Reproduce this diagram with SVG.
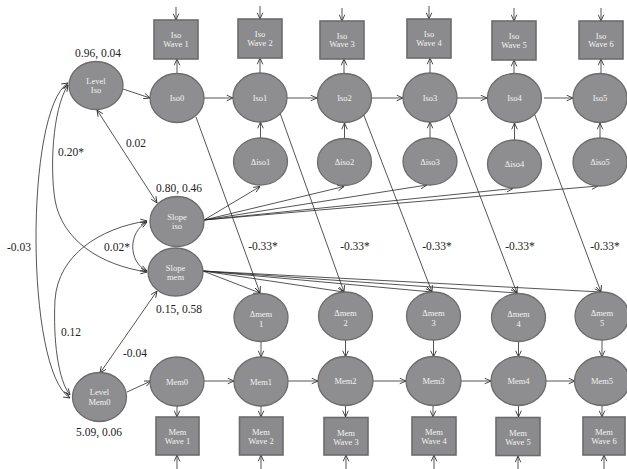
<svg xmlns="http://www.w3.org/2000/svg" width="627" height="469" viewBox="0 0 627 469">
<style>
.n ellipse{fill:#8e8e90;stroke:#6c6c6c;stroke-width:1.3}
.n rect{fill:#8b8b8d;stroke:#6c6c6c;stroke-width:1.6}
.n text{font-family:"Liberation Serif",serif;font-size:8.5px;fill:#f2f2f2;text-anchor:middle}
.c path,.c line{fill:none;stroke:#2a2a2a;stroke-width:0.8}
.c line,.c path{marker-end:url(#a)}
.c .d{marker-start:url(#a)}
.l text{font-family:"Liberation Serif",serif;font-size:11.5px;fill:#222;text-anchor:middle}
</style>
<defs>
<marker id="a" viewBox="0 0 10 10" refX="10" refY="5" markerWidth="7" markerHeight="7" markerUnits="userSpaceOnUse" orient="auto-start-reverse">
<path d="M1,1 L10,5 L1,9" fill="none" stroke="#2a2a2a" stroke-width="1.2"/>
</marker>
</defs>
<rect width="627" height="469" fill="#fff"/>
<g class="c">
<!-- top input arrows -->
<line x1="176" y1="7" x2="176" y2="20"/>
<line x1="260" y1="6" x2="260" y2="19"/>
<line x1="342" y1="8" x2="342" y2="21"/>
<line x1="429" y1="6" x2="429" y2="19"/>
<line x1="514" y1="8" x2="514" y2="21"/>
<line x1="601" y1="8" x2="601" y2="21"/>
<!-- iso to boxes -->
<line x1="177" y1="74" x2="177" y2="59"/>
<line x1="260" y1="73" x2="260" y2="58"/>
<line x1="344" y1="74" x2="344" y2="59"/>
<line x1="430" y1="73" x2="430" y2="58"/>
<line x1="514" y1="74" x2="514" y2="60"/>
<line x1="601" y1="74" x2="601" y2="59"/>
<!-- iso chain -->
<line x1="123" y1="89" x2="150" y2="98"/>
<line x1="204" y1="98" x2="233" y2="98"/>
<line x1="287" y1="98" x2="317" y2="98"/>
<line x1="372" y1="98" x2="403" y2="98"/>
<line x1="457" y1="98" x2="487" y2="98"/>
<line x1="544" y1="98" x2="573" y2="98"/>
<!-- delta iso to iso -->
<line x1="260.5" y1="138" x2="260.5" y2="122"/>
<line x1="344.5" y1="139" x2="344.5" y2="123"/>
<line x1="430" y1="138" x2="430" y2="122"/>
<line x1="514.5" y1="140" x2="514.5" y2="123"/>
<line x1="600" y1="138" x2="600" y2="123"/>
<!-- slope iso fan -->
<line x1="204" y1="220" x2="260" y2="186.5"/>
<line x1="204" y1="220" x2="344" y2="186.5"/>
<line x1="204" y1="220" x2="427" y2="185"/>
<line x1="204" y1="220" x2="513" y2="188.5"/>
<line x1="204" y1="220" x2="598" y2="186"/>
<!-- slope mem fan -->
<line x1="203" y1="271" x2="260" y2="293"/>
<line x1="203" y1="271" x2="344" y2="292"/>
<line x1="203" y1="271" x2="432" y2="292"/>
<line x1="203" y1="271" x2="517" y2="293"/>
<line x1="203" y1="271" x2="601" y2="292"/>
<!-- cross-lagged -->
<line x1="196" y1="117" x2="260" y2="293"/>
<line x1="280" y1="113" x2="344" y2="292"/>
<line x1="363" y1="113" x2="432" y2="292"/>
<line x1="448" y1="112" x2="517" y2="293"/>
<line x1="533" y1="110" x2="601" y2="292"/>
<!-- delta mem to mem -->
<line x1="261" y1="341.5" x2="261" y2="357"/>
<line x1="345.5" y1="340" x2="345.5" y2="357"/>
<line x1="433.5" y1="340" x2="433.5" y2="357"/>
<line x1="518.5" y1="341.5" x2="518.5" y2="357"/>
<line x1="602" y1="340" x2="602" y2="357"/>
<!-- mem chain -->
<line x1="127" y1="392" x2="151" y2="381"/>
<line x1="204" y1="381" x2="234" y2="381"/>
<line x1="288" y1="381" x2="318" y2="381"/>
<line x1="373" y1="381" x2="406" y2="381"/>
<line x1="461" y1="381" x2="491" y2="381"/>
<line x1="546" y1="381" x2="575" y2="381"/>
<!-- mem to boxes -->
<line x1="177" y1="406" x2="177" y2="417"/>
<line x1="261" y1="406" x2="261" y2="417"/>
<line x1="345.5" y1="406" x2="345.5" y2="417"/>
<line x1="433" y1="406" x2="433" y2="417"/>
<line x1="518.5" y1="406" x2="518.5" y2="417"/>
<line x1="602" y1="406" x2="602" y2="417"/>
<!-- bottom input arrows -->
<line x1="177" y1="469" x2="177" y2="455"/>
<line x1="261" y1="469" x2="261" y2="455"/>
<line x1="346" y1="469" x2="346" y2="455"/>
<line x1="434" y1="469" x2="434" y2="455"/>
<line x1="518" y1="469" x2="518" y2="456"/>
<line x1="604" y1="469" x2="604" y2="455"/>
<!-- covariances -->
<path class="d" d="M70,398 C25,370 25,110 68,83"/>
<path class="d" d="M68,85 C52,110 50,170 55,200 C62,240 100,265 147,272"/>
<path class="d" d="M70,395 C58,380 53,340 55,300 C58,255 100,228 147,221"/>
<path class="d" d="M147,222 C128,232 128,262 147,271"/>
<line class="d" x1="97" y1="110" x2="157" y2="203"/>
<line class="d" x1="157" y1="291" x2="100" y2="373"/>
</g>
<g class="l">
<text x="98" y="57">0.96, 0.04</text>
<text x="71" y="156">0.20*</text>
<text x="136" y="147">0.02</text>
<text x="179" y="192">0.80, 0.46</text>
<text x="19" y="251">-0.03</text>
<text x="117" y="251">0.02*</text>
<text x="179" y="313">0.15, 0.58</text>
<text x="71" y="336">0.12</text>
<text x="135" y="357">-0.04</text>
<text x="99" y="436">5.09, 0.06</text>
<text x="263" y="250">-0.33*</text>
<text x="355" y="250">-0.33*</text>
<text x="437" y="250">-0.33*</text>
<text x="520" y="250">-0.33*</text>
<text x="605" y="250">-0.33*</text>
</g>
<g id="levelIso" class="n"><ellipse cx="96" cy="85.5" rx="27" ry="24"/><text x="96" y="84">Level</text><text x="96" y="93">Iso</text></g>
<g id="iso0" class="n"><ellipse cx="177" cy="98" rx="27" ry="24.5"/><text x="177" y="101">Iso0</text></g>
<g id="iso1" class="n"><ellipse cx="260" cy="97.5" rx="27" ry="24.5"/><text x="260" y="100.5">Iso1</text></g>
<g id="iso2" class="n"><ellipse cx="344.5" cy="98" rx="27" ry="24.5"/><text x="344.5" y="101">Iso2</text></g>
<g id="iso3" class="n"><ellipse cx="430" cy="97.5" rx="27" ry="24.5"/><text x="430" y="100.5">Iso3</text></g>
<g id="iso4" class="n"><ellipse cx="514.5" cy="98" rx="27" ry="24.5"/><text x="514.5" y="101">Iso4</text></g>
<g id="iso5" class="n"><ellipse cx="600" cy="98" rx="27" ry="24.5"/><text x="600" y="101">Iso5</text></g>
<g id="isoW1" class="n"><rect x="154" y="20" width="44" height="39"/><text x="176" y="38">Iso</text><text x="176" y="46.5">Wave 1</text></g>
<g id="isoW2" class="n"><rect x="238" y="19" width="44" height="39"/><text x="260" y="37">Iso</text><text x="260" y="45.5">Wave 2</text></g>
<g id="isoW3" class="n"><rect x="320" y="21" width="44" height="38"/><text x="342" y="38.5">Iso</text><text x="342" y="47">Wave 3</text></g>
<g id="isoW4" class="n"><rect x="407" y="19" width="44" height="39"/><text x="429" y="37">Iso</text><text x="429" y="45.5">Wave 4</text></g>
<g id="isoW5" class="n"><rect x="492" y="21" width="44" height="39"/><text x="514" y="39">Iso</text><text x="514" y="47.5">Wave 5</text></g>
<g id="isoW6" class="n"><rect x="579" y="21" width="44" height="38"/><text x="601" y="38.5">Iso</text><text x="601" y="47">Wave 6</text></g>
<g id="diso1" class="n"><ellipse cx="260.5" cy="161.5" rx="27" ry="23.5"/><text x="260.5" y="164.5">Δiso1</text></g>
<g id="diso2" class="n"><ellipse cx="344.5" cy="162" rx="27" ry="23.5"/><text x="344.5" y="165">Δiso2</text></g>
<g id="diso3" class="n"><ellipse cx="430" cy="161.5" rx="27" ry="23.5"/><text x="430" y="164.5">Δiso3</text></g>
<g id="diso4" class="n"><ellipse cx="514.5" cy="164" rx="27" ry="24"/><text x="514.5" y="167">Δiso4</text></g>
<g id="diso5" class="n"><ellipse cx="600" cy="162" rx="27" ry="24"/><text x="600" y="165">Δiso5</text></g>
<g id="slopeIso" class="n"><ellipse cx="177" cy="221.5" rx="27" ry="25"/><text x="177" y="219.5">Slope</text><text x="177" y="228.5">iso</text></g>
<g id="slopeMem" class="n"><ellipse cx="175.5" cy="272" rx="27.5" ry="24"/><text x="175.5" y="271">Slope</text><text x="175.5" y="280">mem</text></g>
<g id="dmem1" class="n"><ellipse cx="261" cy="317.5" rx="27" ry="24"/><text x="261" y="317">Δmem</text><text x="261" y="327">1</text></g>
<g id="dmem2" class="n"><ellipse cx="345.5" cy="316" rx="27" ry="24"/><text x="345.5" y="315.5">Δmem</text><text x="345.5" y="325.5">2</text></g>
<g id="dmem3" class="n"><ellipse cx="433.5" cy="316" rx="27" ry="24"/><text x="433.5" y="315.5">Δmem</text><text x="433.5" y="325.5">3</text></g>
<g id="dmem4" class="n"><ellipse cx="518.5" cy="317.5" rx="27" ry="24"/><text x="518.5" y="317">Δmem</text><text x="518.5" y="327">4</text></g>
<g id="dmem5" class="n"><ellipse cx="602" cy="316" rx="27" ry="24"/><text x="602" y="315.5">Δmem</text><text x="602" y="325.5">5</text></g>
<g id="levelMem0" class="n"><ellipse cx="99.5" cy="397" rx="27" ry="24.5"/><text x="99.5" y="394.5">Level</text><text x="99.5" y="404.5">Mem0</text></g>
<g id="mem0" class="n"><ellipse cx="177" cy="381.5" rx="27" ry="24.5"/><text x="177" y="384.5">Mem0</text></g>
<g id="mem1" class="n"><ellipse cx="261" cy="381.5" rx="27" ry="24.5"/><text x="261" y="384.5">Mem1</text></g>
<g id="mem2" class="n"><ellipse cx="345.5" cy="381" rx="27.5" ry="24.5"/><text x="345.5" y="384">Mem2</text></g>
<g id="mem3" class="n"><ellipse cx="433.5" cy="381" rx="27.5" ry="24.5"/><text x="433.5" y="384">Mem3</text></g>
<g id="mem4" class="n"><ellipse cx="518.5" cy="381" rx="27.5" ry="24.5"/><text x="518.5" y="384">Mem4</text></g>
<g id="mem5" class="n"><ellipse cx="602" cy="381" rx="27.5" ry="24.5"/><text x="602" y="384">Mem5</text></g>
<g id="memW1" class="n"><rect x="156" y="417" width="43" height="38"/><text x="177.5" y="435">Mem</text><text x="177.5" y="444">Wave 1</text></g>
<g id="memW2" class="n"><rect x="239.5" y="417" width="43.5" height="38"/><text x="261" y="435">Mem</text><text x="261" y="444">Wave 2</text></g>
<g id="memW3" class="n"><rect x="324" y="417.5" width="44" height="37.5"/><text x="346" y="435.5">Mem</text><text x="346" y="444.5">Wave 3</text></g>
<g id="memW4" class="n"><rect x="412" y="417" width="44" height="38"/><text x="434" y="435">Mem</text><text x="434" y="444">Wave 4</text></g>
<g id="memW5" class="n"><rect x="496" y="417.5" width="44" height="38"/><text x="518" y="435.5">Mem</text><text x="518" y="444.5">Wave 5</text></g>
<g id="memW6" class="n"><rect x="583" y="417" width="42" height="38"/><text x="604" y="435">Mem</text><text x="604" y="444">Wave 6</text></g>
</svg>
